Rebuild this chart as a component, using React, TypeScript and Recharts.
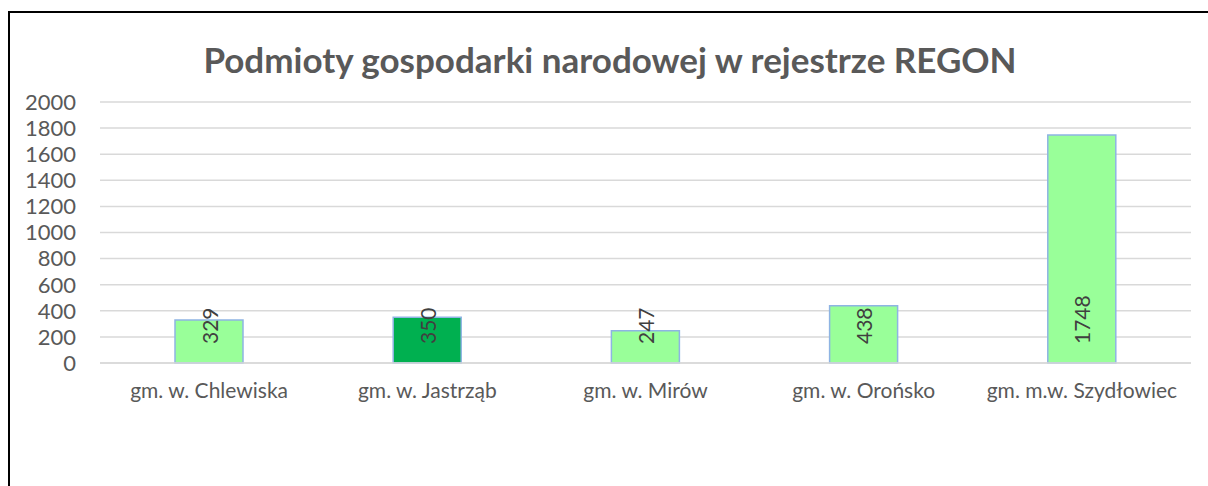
import { Bar, BarChart, CartesianGrid, Cell, LabelList, XAxis, YAxis } from 'recharts';

const CATEGORIES = [
  'gm. w. Chlewiska',
  'gm. w. Jastrząb',
  'gm. w. Mirów',
  'gm. w. Orońsko',
  'gm. m.w. Szydłowiec',
];
const VALUES = [329, 350, 247, 438, 1748];
const HIGHLIGHT = 'gm. w. Jastrząb';
const Y_TICKS = [0, 200, 400, 600, 800, 1000, 1200, 1400, 1600, 1800, 2000];
const TITLE = 'Podmioty gospodarki narodowej w rejestrze REGON';

const FONT = 'Lato, "Open Sans", sans-serif';
const TEXT = '#595959';

const data = CATEGORIES.map((name, i) => ({ name, value: VALUES[i] }));

// rotated value label sitting near the base of the bar
function BaseLabel(props: any) {
  const { x, y, width, height, value } = props;
  const cx = x + width / 2;
  const by = y + height - 19;
  return (
    <text
      x={cx}
      y={by}
      transform={`rotate(-90 ${cx} ${by})`}
      textAnchor="start"
      dominantBaseline="central"
      fontFamily={FONT}
      fontSize={21}
      fill="#404040"
    >
      {value}
    </text>
  );
}

export default function App() {
  return (
    <div
      style={{
        position: 'absolute',
        left: 8,
        top: 11,
        width: 1220,
        height: 480,
        borderTop: '2px solid #000',
        borderLeft: '2px solid #000',
        background: '#fff',
        fontFamily: FONT,
      }}
    >
      <div
        style={{
          position: 'absolute',
          left: 0,
          width: 1200,
          top: 25,
          textAlign: 'center',
          fontSize: 35,
          fontWeight: 700,
          color: TEXT,
        }}
      >
        {TITLE}
      </div>
      <div style={{ position: 'absolute', left: 0, top: 0 }}>
        <BarChart
          width={1200}
          height={470}
          data={data}
          margin={{ top: 89, right: 19, left: 0, bottom: 60 }}
        >
          <CartesianGrid vertical={false} stroke="#d9d9d9" strokeWidth={1.5} />
          <XAxis
            dataKey="name"
            axisLine={{ stroke: '#d9d9d9', strokeWidth: 1.5 }}
            tickLine={false}
            tickMargin={14}
            height={60}
            interval={0}
            tick={{ fontSize: 21, fill: TEXT, fontFamily: FONT }}
          />
          <YAxis
            domain={[0, 2000]}
            ticks={Y_TICKS}
            interval={0}
            axisLine={false}
            tickLine={false}
            tickMargin={18}
            width={90}
            tick={{ fontSize: 22, fill: TEXT, fontFamily: FONT }}
          />
          <Bar
            dataKey="value"
            barSize={68}
            stroke="#8eb4e3"
            strokeWidth={1.5}
            isAnimationActive={false}
          >
            {data.map((d) => (
              <Cell key={d.name} fill={d.name === HIGHLIGHT ? '#00b050' : '#99ff99'} />
            ))}
            <LabelList dataKey="value" content={<BaseLabel />} />
          </Bar>
        </BarChart>
      </div>
    </div>
  );
}
